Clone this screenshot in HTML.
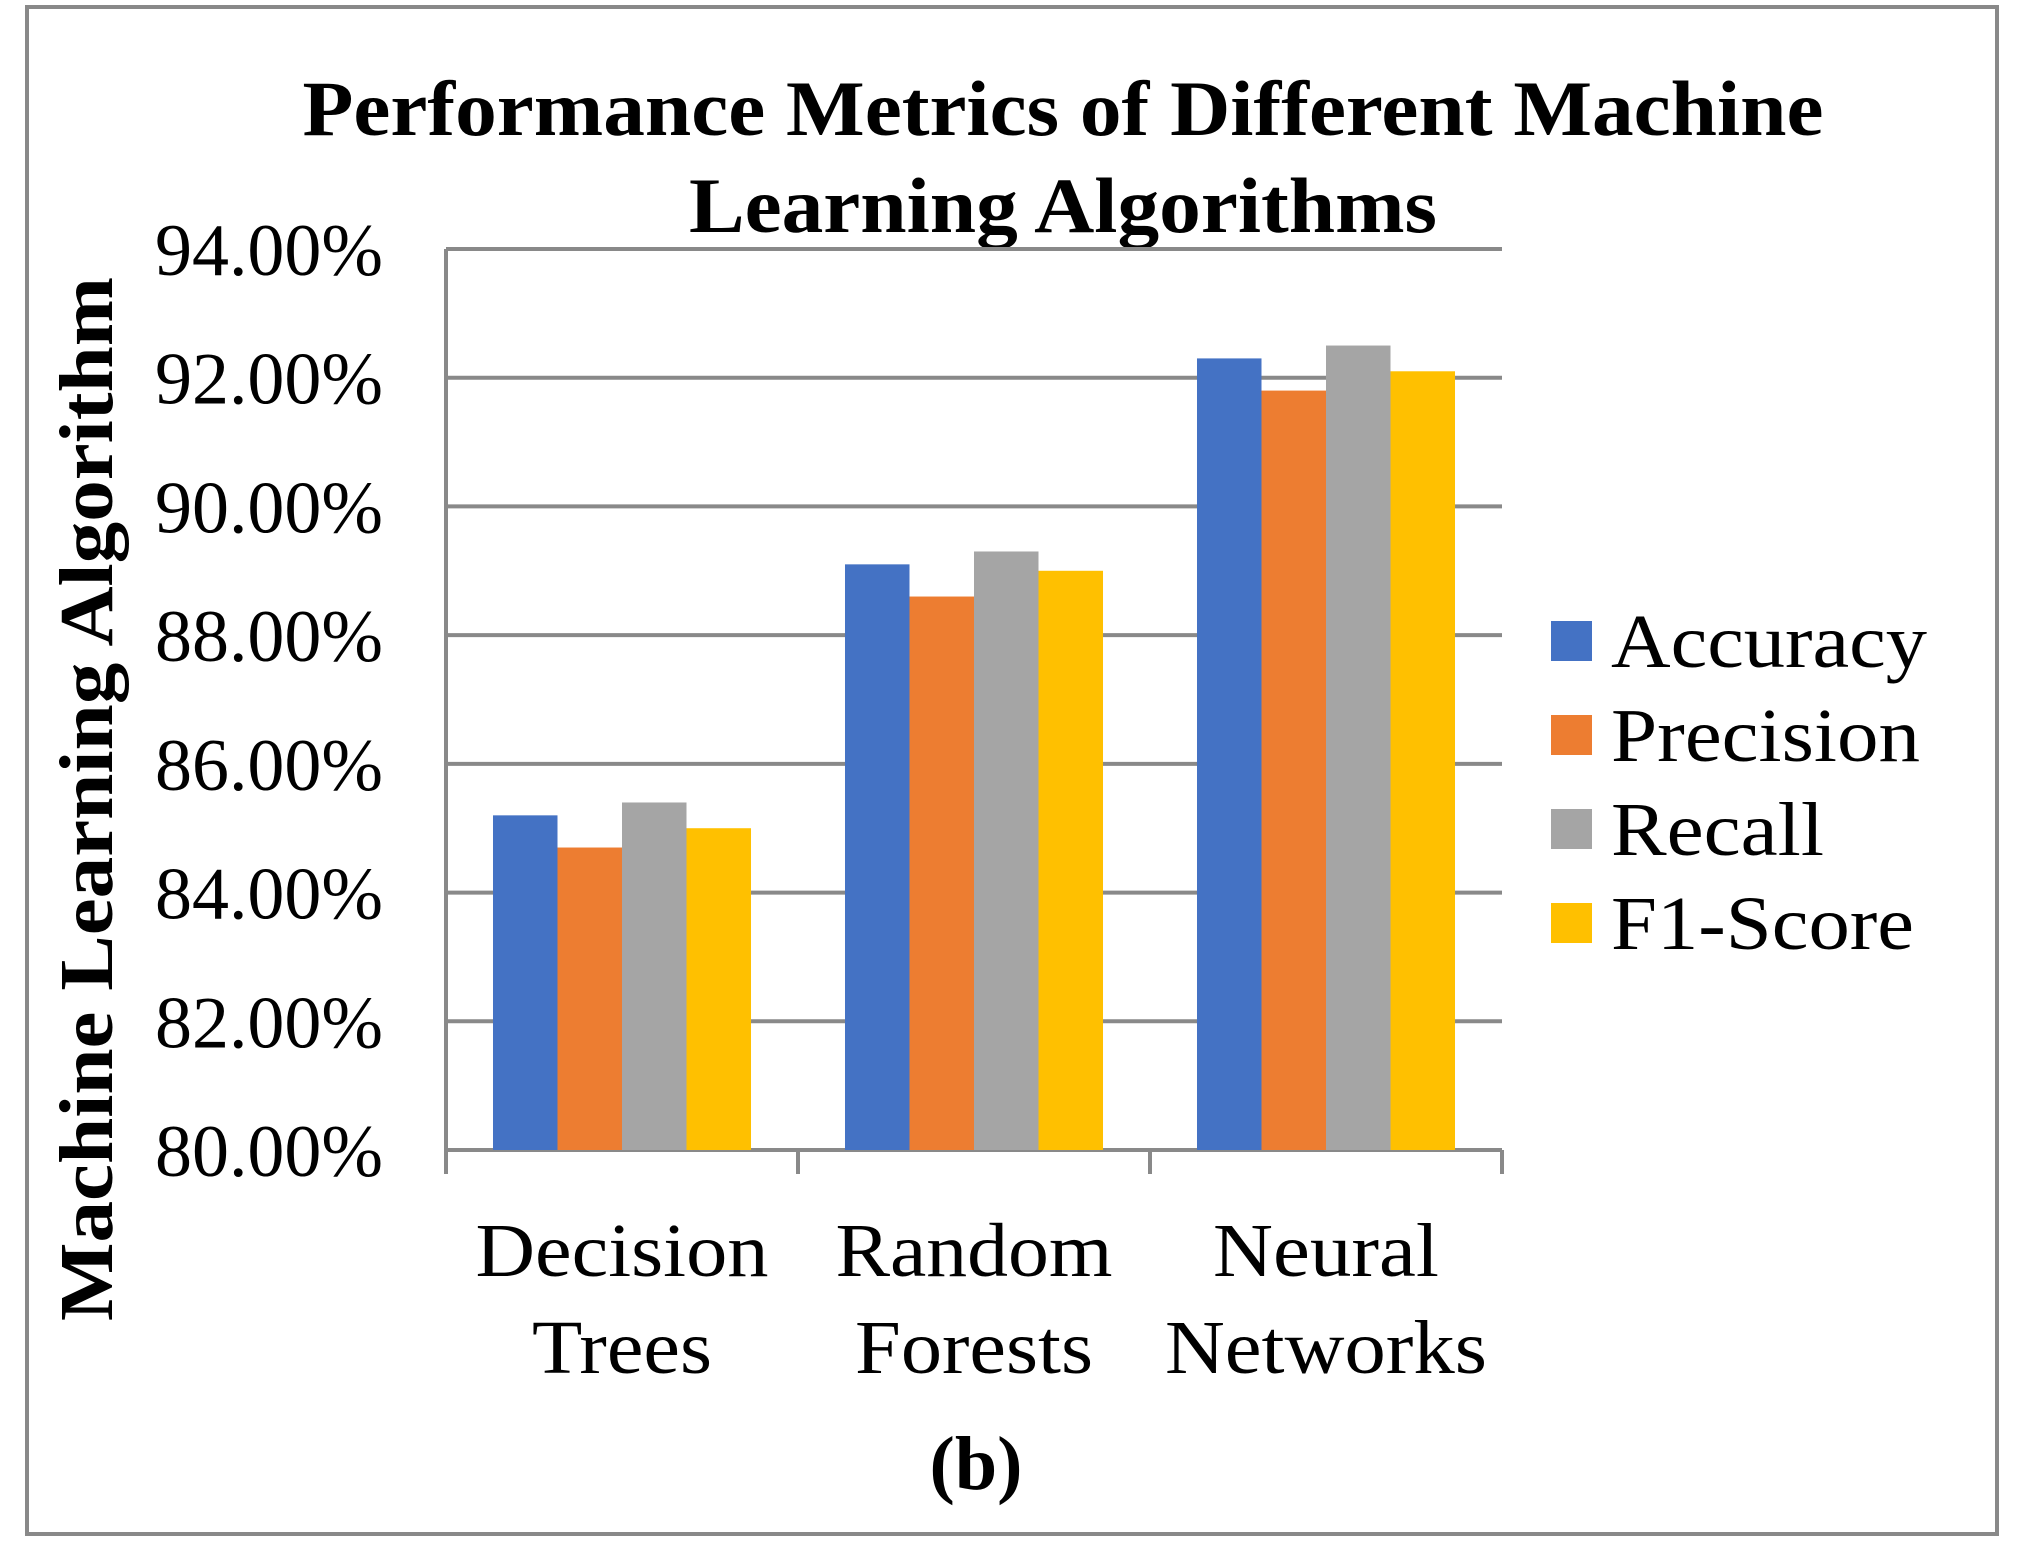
<!DOCTYPE html>
<html><head><meta charset="utf-8"><style>
html,body{margin:0;padding:0;background:#fff;}
svg{display:block;font-family:"Liberation Serif",serif;}
</style></head><body>
<svg id="c" width="2021" height="1567" viewBox="0 0 2021 1567" xmlns="http://www.w3.org/2000/svg">
<rect x="27" y="7" width="1970" height="1527" fill="#fff" stroke="#898989" stroke-width="4"/>
<text x="1063" y="135" font-size="78" font-weight="bold" text-anchor="middle" textLength="1521" lengthAdjust="spacingAndGlyphs">Performance Metrics of Different Machine</text>
<text x="1063" y="232" font-size="78" font-weight="bold" text-anchor="middle" textLength="748" lengthAdjust="spacingAndGlyphs">Learning Algorithms</text>
<text transform="translate(112,799) rotate(-90)" font-size="76" font-weight="bold" text-anchor="middle" textLength="1044" lengthAdjust="spacingAndGlyphs">Machine Learning Algorithm</text>
<text x="976" y="1489" font-size="76" font-weight="bold" text-anchor="middle">(b)</text>
<g id="grid"></g><g id="bars"></g><g id="axes"></g><g id="legend"></g>
</svg>
<script>
const categories = [["Decision","Trees"],["Random","Forests"],["Neural","Networks"]];
const seriesNames = ["Accuracy","Precision","Recall","F1-Score"];
const seriesColors = ["#4472C4","#ED7D31","#A5A5A5","#FFC000"];
const accuracy = [85.2, 89.1, 92.3];
const precision = [84.7, 88.6, 91.8];
const recall = [85.4, 89.3, 92.5];
const f1score = [85.0, 89.0, 92.1];
const yTicks = [80,82,84,86,88,90,92,94];
const yTickLabels = ["80.00%","82.00%","84.00%","86.00%","88.00%","90.00%","92.00%","94.00%"];

const catLabelWidths = [[293,180],[277,238],[226,322]];
const legendWidths = [316,309,213,303];
const series = [accuracy, precision, recall, f1score];
const NS = "http://www.w3.org/2000/svg";
const L = 446, R = 1502, T = 249, B = 1150;
const yMin = 80, yMax = 94;
const y = v => B - (v - yMin) / (yMax - yMin) * (B - T);
const catW = (R - L) / categories.length;
const barW = catW * 0.733 / series.length;
const x = (ci, si) => L + ci * catW + catW * 0.1335 + si * barW;
function mk(tag, attrs, parent) {
  const e = document.createElementNS(NS, tag);
  for (const k in attrs) e.setAttribute(k, attrs[k]);
  document.getElementById(parent).appendChild(e);
  return e;
}
yTicks.forEach((t, i) => {
  const g = mk("line", {x1: L, x2: R, y1: y(t), y2: y(t), stroke: "#898989", "stroke-width": 4}, "grid");
  
  
  const tx = mk("text", {x: 383, y: y(t) + 26, "font-size": 74, "text-anchor": "end", textLength: 228, lengthAdjust: "spacingAndGlyphs"}, "grid");
  tx.textContent = yTickLabels[i];
  
  
});
series.forEach((s, si) => {
  s.forEach((v, ci) => {
    const r = mk("rect", {x: x(ci, si), y: y(v), width: barW, height: B - y(v), fill: seriesColors[si]}, "bars");
    
    
  });
});
const ax = mk("line", {x1: L, x2: L, y1: T, y2: B + 22, stroke: "#898989", "stroke-width": 4}, "axes");


for (let i = 0; i <= categories.length; i++) {
  const tk = mk("line", {x1: L + i * catW, x2: L + i * catW, y1: B, y2: B + 24, stroke: "#898989", "stroke-width": 4}, "axes");
  
  
}
categories.forEach((c, ci) => {
  c.forEach((line, li) => {
    const tx = mk("text", {x: L + (ci + 0.5) * catW, y: 1276 + li * 97, "font-size": 76, "text-anchor": "middle", textLength: catLabelWidths[ci][li], lengthAdjust: "spacingAndGlyphs"}, "axes");
    tx.textContent = line;
    
    
  });
});
seriesNames.forEach((n, i) => {
  const cy = 641 + i * 94;
  const sw = mk("rect", {x: 1551, y: cy - 20, width: 41, height: 40, fill: seriesColors[i]}, "legend");
  
  
  const tx = mk("text", {x: 1611, y: cy + 26, "font-size": 76, textLength: legendWidths[i], lengthAdjust: "spacingAndGlyphs"}, "legend");
  tx.textContent = n;
  
  
});
</script>
</body></html>
